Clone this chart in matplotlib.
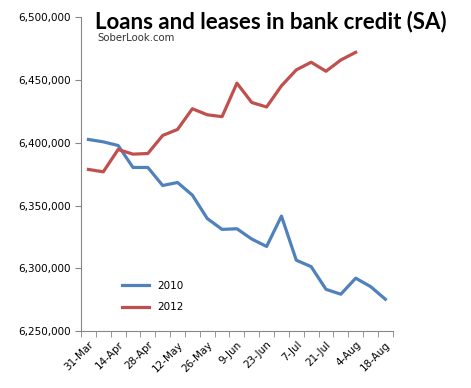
import matplotlib
matplotlib.use("Agg")
import matplotlib.pyplot as plt

TITLE = "Loans and leases in bank credit (SA)"
SOURCE = "SoberLook.com"

dates = ["31-Mar", "7-Apr", "14-Apr", "21-Apr", "28-Apr", "5-May", "12-May",
         "19-May", "26-May", "2-Jun", "9-Jun", "16-Jun", "23-Jun", "30-Jun",
         "7-Jul", "14-Jul", "21-Jul", "28-Jul", "4-Aug", "11-Aug", "18-Aug"]

loans_2010 = [6402700, 6400800, 6397900, 6380400, 6380400, 6366000, 6368400,
              6358300, 6339700, 6331000, 6331500, 6323300, 6317400, 6341600,
              6306400, 6301300, 6283200, 6279300, 6292100, 6285400, 6275300]

loans_2012 = [6378800, 6376900, 6394700, 6391000, 6391500, 6405900, 6410700,
              6427200, 6422400, 6420900, 6447600, 6432200, 6428600, 6445500,
              6458200, 6464300, 6457100, 6466100, 6472200]

fig = plt.figure(figsize=(4.71, 3.88), dpi=100)
ax = fig.add_axes([0.172, 0.147, 0.662, 0.808])

ax.plot(range(len(loans_2010)), loans_2010, color="#4F81BD", linewidth=2.3, label="2010")
ax.plot(range(len(loans_2012)), loans_2012, color="#C0504D", linewidth=2.3, label="2012")

ax.set_ylim(6250000, 6500000)
ax.set_yticks(range(6250000, 6500001, 50000))
ax.set_yticklabels([f"{v:,}" for v in range(6250000, 6500001, 50000)], fontsize=7.5)

n = len(dates)
ax.set_xlim(-0.5, n - 0.5)
ax.set_xticks([i for i in range(0, n, 2)])
ax.set_xticklabels(dates[::2], rotation=45, ha="right", rotation_mode="anchor", fontsize=7.5)
ax.tick_params(axis="x", which="major", length=0, pad=6)
ax.set_xticks([i - 0.5 for i in range(n + 1)], minor=True)
ax.tick_params(axis="x", which="minor", length=4, color="#868686", direction="out")
ax.tick_params(axis="y", length=4, color="#868686", direction="out")

for side in ["top", "right"]:
    ax.spines[side].set_visible(False)
for side in ["left", "bottom"]:
    ax.spines[side].set_color("#868686")

fig.text(0.202, 0.945, TITLE, fontsize=16, fontweight="bold", family="Lato", va="center")
sub = fig.text(0.206, 0.902, SOURCE, fontsize=7.3, color="#333333", va="center")
sub.set_fontstretch("expanded")

ax.legend(loc="lower left", bbox_to_anchor=(0.1, 0.03), frameon=False, fontsize=7.5,
          handlelength=2.6, labelspacing=1.1)

fig.savefig("out.png", dpi=100)
